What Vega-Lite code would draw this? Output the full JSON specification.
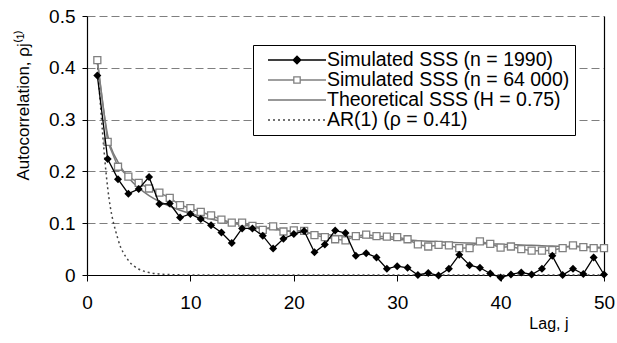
{
  "$schema": "https://vega.github.io/schema/vega-lite/v6.json",
  "width": 517,
  "height": 259,
  "autosize": {"type": "none"},
  "padding": {"left": 87, "top": 16, "right": 13, "bottom": 68},
  "background": "#ffffff",
  "view": {"stroke": null},
  "config": {
    "font": "Liberation Sans",
    "axis": {"labelFont": "Liberation Sans", "titleFont": "Liberation Sans", "labelColor": "#000000", "titleColor": "#000000", "titleFontWeight": "normal"}
  },
  "data": {
    "values": [
      {"series": "Simulated SSS (n = 1990)", "lag": 1, "r": 0.385},
      {"series": "Simulated SSS (n = 1990)", "lag": 2, "r": 0.224},
      {"series": "Simulated SSS (n = 1990)", "lag": 3, "r": 0.185},
      {"series": "Simulated SSS (n = 1990)", "lag": 4, "r": 0.157},
      {"series": "Simulated SSS (n = 1990)", "lag": 5, "r": 0.166},
      {"series": "Simulated SSS (n = 1990)", "lag": 6, "r": 0.189},
      {"series": "Simulated SSS (n = 1990)", "lag": 7, "r": 0.137},
      {"series": "Simulated SSS (n = 1990)", "lag": 8, "r": 0.138},
      {"series": "Simulated SSS (n = 1990)", "lag": 9, "r": 0.111},
      {"series": "Simulated SSS (n = 1990)", "lag": 10, "r": 0.118},
      {"series": "Simulated SSS (n = 1990)", "lag": 11, "r": 0.108},
      {"series": "Simulated SSS (n = 1990)", "lag": 12, "r": 0.096},
      {"series": "Simulated SSS (n = 1990)", "lag": 13, "r": 0.082},
      {"series": "Simulated SSS (n = 1990)", "lag": 14, "r": 0.062},
      {"series": "Simulated SSS (n = 1990)", "lag": 15, "r": 0.090},
      {"series": "Simulated SSS (n = 1990)", "lag": 16, "r": 0.090},
      {"series": "Simulated SSS (n = 1990)", "lag": 17, "r": 0.076},
      {"series": "Simulated SSS (n = 1990)", "lag": 18, "r": 0.051},
      {"series": "Simulated SSS (n = 1990)", "lag": 19, "r": 0.070},
      {"series": "Simulated SSS (n = 1990)", "lag": 20, "r": 0.079},
      {"series": "Simulated SSS (n = 1990)", "lag": 21, "r": 0.085},
      {"series": "Simulated SSS (n = 1990)", "lag": 22, "r": 0.044},
      {"series": "Simulated SSS (n = 1990)", "lag": 23, "r": 0.059},
      {"series": "Simulated SSS (n = 1990)", "lag": 24, "r": 0.086},
      {"series": "Simulated SSS (n = 1990)", "lag": 25, "r": 0.081},
      {"series": "Simulated SSS (n = 1990)", "lag": 26, "r": 0.037},
      {"series": "Simulated SSS (n = 1990)", "lag": 27, "r": 0.042},
      {"series": "Simulated SSS (n = 1990)", "lag": 28, "r": 0.034},
      {"series": "Simulated SSS (n = 1990)", "lag": 29, "r": 0.012},
      {"series": "Simulated SSS (n = 1990)", "lag": 30, "r": 0.017},
      {"series": "Simulated SSS (n = 1990)", "lag": 31, "r": 0.014},
      {"series": "Simulated SSS (n = 1990)", "lag": 32, "r": 0.000},
      {"series": "Simulated SSS (n = 1990)", "lag": 33, "r": 0.004},
      {"series": "Simulated SSS (n = 1990)", "lag": 34, "r": -0.001},
      {"series": "Simulated SSS (n = 1990)", "lag": 35, "r": 0.012},
      {"series": "Simulated SSS (n = 1990)", "lag": 36, "r": 0.039},
      {"series": "Simulated SSS (n = 1990)", "lag": 37, "r": 0.019},
      {"series": "Simulated SSS (n = 1990)", "lag": 38, "r": 0.014},
      {"series": "Simulated SSS (n = 1990)", "lag": 39, "r": 0.003},
      {"series": "Simulated SSS (n = 1990)", "lag": 40, "r": -0.005},
      {"series": "Simulated SSS (n = 1990)", "lag": 41, "r": 0.001},
      {"series": "Simulated SSS (n = 1990)", "lag": 42, "r": 0.005},
      {"series": "Simulated SSS (n = 1990)", "lag": 43, "r": 0.001},
      {"series": "Simulated SSS (n = 1990)", "lag": 44, "r": 0.012},
      {"series": "Simulated SSS (n = 1990)", "lag": 45, "r": 0.037},
      {"series": "Simulated SSS (n = 1990)", "lag": 46, "r": 0.000},
      {"series": "Simulated SSS (n = 1990)", "lag": 47, "r": 0.012},
      {"series": "Simulated SSS (n = 1990)", "lag": 48, "r": 0.002},
      {"series": "Simulated SSS (n = 1990)", "lag": 49, "r": 0.034},
      {"series": "Simulated SSS (n = 1990)", "lag": 50, "r": 0.001},
      {"series": "Simulated SSS (n = 64 000)", "lag": 1, "r": 0.415},
      {"series": "Simulated SSS (n = 64 000)", "lag": 2, "r": 0.257},
      {"series": "Simulated SSS (n = 64 000)", "lag": 3, "r": 0.209},
      {"series": "Simulated SSS (n = 64 000)", "lag": 4, "r": 0.190},
      {"series": "Simulated SSS (n = 64 000)", "lag": 5, "r": 0.178},
      {"series": "Simulated SSS (n = 64 000)", "lag": 6, "r": 0.167},
      {"series": "Simulated SSS (n = 64 000)", "lag": 7, "r": 0.159},
      {"series": "Simulated SSS (n = 64 000)", "lag": 8, "r": 0.149},
      {"series": "Simulated SSS (n = 64 000)", "lag": 9, "r": 0.135},
      {"series": "Simulated SSS (n = 64 000)", "lag": 10, "r": 0.129},
      {"series": "Simulated SSS (n = 64 000)", "lag": 11, "r": 0.122},
      {"series": "Simulated SSS (n = 64 000)", "lag": 12, "r": 0.115},
      {"series": "Simulated SSS (n = 64 000)", "lag": 13, "r": 0.107},
      {"series": "Simulated SSS (n = 64 000)", "lag": 14, "r": 0.101},
      {"series": "Simulated SSS (n = 64 000)", "lag": 15, "r": 0.101},
      {"series": "Simulated SSS (n = 64 000)", "lag": 16, "r": 0.095},
      {"series": "Simulated SSS (n = 64 000)", "lag": 17, "r": 0.087},
      {"series": "Simulated SSS (n = 64 000)", "lag": 18, "r": 0.094},
      {"series": "Simulated SSS (n = 64 000)", "lag": 19, "r": 0.084},
      {"series": "Simulated SSS (n = 64 000)", "lag": 20, "r": 0.086},
      {"series": "Simulated SSS (n = 64 000)", "lag": 21, "r": 0.085},
      {"series": "Simulated SSS (n = 64 000)", "lag": 22, "r": 0.077},
      {"series": "Simulated SSS (n = 64 000)", "lag": 23, "r": 0.073},
      {"series": "Simulated SSS (n = 64 000)", "lag": 24, "r": 0.069},
      {"series": "Simulated SSS (n = 64 000)", "lag": 25, "r": 0.067},
      {"series": "Simulated SSS (n = 64 000)", "lag": 26, "r": 0.075},
      {"series": "Simulated SSS (n = 64 000)", "lag": 27, "r": 0.078},
      {"series": "Simulated SSS (n = 64 000)", "lag": 28, "r": 0.075},
      {"series": "Simulated SSS (n = 64 000)", "lag": 29, "r": 0.074},
      {"series": "Simulated SSS (n = 64 000)", "lag": 30, "r": 0.073},
      {"series": "Simulated SSS (n = 64 000)", "lag": 31, "r": 0.069},
      {"series": "Simulated SSS (n = 64 000)", "lag": 32, "r": 0.059},
      {"series": "Simulated SSS (n = 64 000)", "lag": 33, "r": 0.055},
      {"series": "Simulated SSS (n = 64 000)", "lag": 34, "r": 0.058},
      {"series": "Simulated SSS (n = 64 000)", "lag": 35, "r": 0.057},
      {"series": "Simulated SSS (n = 64 000)", "lag": 36, "r": 0.052},
      {"series": "Simulated SSS (n = 64 000)", "lag": 37, "r": 0.052},
      {"series": "Simulated SSS (n = 64 000)", "lag": 38, "r": 0.065},
      {"series": "Simulated SSS (n = 64 000)", "lag": 39, "r": 0.060},
      {"series": "Simulated SSS (n = 64 000)", "lag": 40, "r": 0.053},
      {"series": "Simulated SSS (n = 64 000)", "lag": 41, "r": 0.055},
      {"series": "Simulated SSS (n = 64 000)", "lag": 42, "r": 0.050},
      {"series": "Simulated SSS (n = 64 000)", "lag": 43, "r": 0.047},
      {"series": "Simulated SSS (n = 64 000)", "lag": 44, "r": 0.047},
      {"series": "Simulated SSS (n = 64 000)", "lag": 45, "r": 0.048},
      {"series": "Simulated SSS (n = 64 000)", "lag": 46, "r": 0.052},
      {"series": "Simulated SSS (n = 64 000)", "lag": 47, "r": 0.057},
      {"series": "Simulated SSS (n = 64 000)", "lag": 48, "r": 0.054},
      {"series": "Simulated SSS (n = 64 000)", "lag": 49, "r": 0.052},
      {"series": "Simulated SSS (n = 64 000)", "lag": 50, "r": 0.052},
      {"series": "Theoretical SSS (H = 0.75)", "lag": 1, "r": 0.4142},
      {"series": "Theoretical SSS (H = 0.75)", "lag": 2, "r": 0.2697},
      {"series": "Theoretical SSS (H = 0.75)", "lag": 3, "r": 0.2181},
      {"series": "Theoretical SSS (H = 0.75)", "lag": 4, "r": 0.1883},
      {"series": "Theoretical SSS (H = 0.75)", "lag": 5, "r": 0.1681},
      {"series": "Theoretical SSS (H = 0.75)", "lag": 6, "r": 0.1534},
      {"series": "Theoretical SSS (H = 0.75)", "lag": 7, "r": 0.1419},
      {"series": "Theoretical SSS (H = 0.75)", "lag": 8, "r": 0.1328},
      {"series": "Theoretical SSS (H = 0.75)", "lag": 9, "r": 0.1251},
      {"series": "Theoretical SSS (H = 0.75)", "lag": 10, "r": 0.1187},
      {"series": "Theoretical SSS (H = 0.75)", "lag": 11, "r": 0.1131},
      {"series": "Theoretical SSS (H = 0.75)", "lag": 12, "r": 0.1083},
      {"series": "Theoretical SSS (H = 0.75)", "lag": 13, "r": 0.1040},
      {"series": "Theoretical SSS (H = 0.75)", "lag": 14, "r": 0.1002},
      {"series": "Theoretical SSS (H = 0.75)", "lag": 15, "r": 0.0968},
      {"series": "Theoretical SSS (H = 0.75)", "lag": 16, "r": 0.0938},
      {"series": "Theoretical SSS (H = 0.75)", "lag": 17, "r": 0.0910},
      {"series": "Theoretical SSS (H = 0.75)", "lag": 18, "r": 0.0884},
      {"series": "Theoretical SSS (H = 0.75)", "lag": 19, "r": 0.0860},
      {"series": "Theoretical SSS (H = 0.75)", "lag": 20, "r": 0.0839},
      {"series": "Theoretical SSS (H = 0.75)", "lag": 21, "r": 0.0818},
      {"series": "Theoretical SSS (H = 0.75)", "lag": 22, "r": 0.0800},
      {"series": "Theoretical SSS (H = 0.75)", "lag": 23, "r": 0.0782},
      {"series": "Theoretical SSS (H = 0.75)", "lag": 24, "r": 0.0765},
      {"series": "Theoretical SSS (H = 0.75)", "lag": 25, "r": 0.0750},
      {"series": "Theoretical SSS (H = 0.75)", "lag": 26, "r": 0.0735},
      {"series": "Theoretical SSS (H = 0.75)", "lag": 27, "r": 0.0722},
      {"series": "Theoretical SSS (H = 0.75)", "lag": 28, "r": 0.0709},
      {"series": "Theoretical SSS (H = 0.75)", "lag": 29, "r": 0.0696},
      {"series": "Theoretical SSS (H = 0.75)", "lag": 30, "r": 0.0685},
      {"series": "Theoretical SSS (H = 0.75)", "lag": 31, "r": 0.0674},
      {"series": "Theoretical SSS (H = 0.75)", "lag": 32, "r": 0.0663},
      {"series": "Theoretical SSS (H = 0.75)", "lag": 33, "r": 0.0653},
      {"series": "Theoretical SSS (H = 0.75)", "lag": 34, "r": 0.0643},
      {"series": "Theoretical SSS (H = 0.75)", "lag": 35, "r": 0.0634},
      {"series": "Theoretical SSS (H = 0.75)", "lag": 36, "r": 0.0625},
      {"series": "Theoretical SSS (H = 0.75)", "lag": 37, "r": 0.0616},
      {"series": "Theoretical SSS (H = 0.75)", "lag": 38, "r": 0.0608},
      {"series": "Theoretical SSS (H = 0.75)", "lag": 39, "r": 0.0600},
      {"series": "Theoretical SSS (H = 0.75)", "lag": 40, "r": 0.0593},
      {"series": "Theoretical SSS (H = 0.75)", "lag": 41, "r": 0.0586},
      {"series": "Theoretical SSS (H = 0.75)", "lag": 42, "r": 0.0579},
      {"series": "Theoretical SSS (H = 0.75)", "lag": 43, "r": 0.0572},
      {"series": "Theoretical SSS (H = 0.75)", "lag": 44, "r": 0.0565},
      {"series": "Theoretical SSS (H = 0.75)", "lag": 45, "r": 0.0559},
      {"series": "Theoretical SSS (H = 0.75)", "lag": 46, "r": 0.0553},
      {"series": "Theoretical SSS (H = 0.75)", "lag": 47, "r": 0.0547},
      {"series": "Theoretical SSS (H = 0.75)", "lag": 48, "r": 0.0541},
      {"series": "Theoretical SSS (H = 0.75)", "lag": 49, "r": 0.0536},
      {"series": "Theoretical SSS (H = 0.75)", "lag": 50, "r": 0.0530},
      {"series": "AR(1) (ρ = 0.41)", "lag": 1, "r": 0.41},
      {"series": "AR(1) (ρ = 0.41)", "lag": 2, "r": 0.1681},
      {"series": "AR(1) (ρ = 0.41)", "lag": 3, "r": 0.0689},
      {"series": "AR(1) (ρ = 0.41)", "lag": 4, "r": 0.0283},
      {"series": "AR(1) (ρ = 0.41)", "lag": 5, "r": 0.0116},
      {"series": "AR(1) (ρ = 0.41)", "lag": 6, "r": 0.0048},
      {"series": "AR(1) (ρ = 0.41)", "lag": 7, "r": 0.0019},
      {"series": "AR(1) (ρ = 0.41)", "lag": 8, "r": 0.0008},
      {"series": "AR(1) (ρ = 0.41)", "lag": 9, "r": 0.0003},
      {"series": "AR(1) (ρ = 0.41)", "lag": 10, "r": 0.0001},
      {"series": "AR(1) (ρ = 0.41)", "lag": 11, "r": 0},
      {"series": "AR(1) (ρ = 0.41)", "lag": 12, "r": 0},
      {"series": "AR(1) (ρ = 0.41)", "lag": 13, "r": 0},
      {"series": "AR(1) (ρ = 0.41)", "lag": 14, "r": 0},
      {"series": "AR(1) (ρ = 0.41)", "lag": 15, "r": 0},
      {"series": "AR(1) (ρ = 0.41)", "lag": 16, "r": 0},
      {"series": "AR(1) (ρ = 0.41)", "lag": 17, "r": 0},
      {"series": "AR(1) (ρ = 0.41)", "lag": 18, "r": 0},
      {"series": "AR(1) (ρ = 0.41)", "lag": 19, "r": 0},
      {"series": "AR(1) (ρ = 0.41)", "lag": 20, "r": 0},
      {"series": "AR(1) (ρ = 0.41)", "lag": 21, "r": 0},
      {"series": "AR(1) (ρ = 0.41)", "lag": 22, "r": 0},
      {"series": "AR(1) (ρ = 0.41)", "lag": 23, "r": 0},
      {"series": "AR(1) (ρ = 0.41)", "lag": 24, "r": 0},
      {"series": "AR(1) (ρ = 0.41)", "lag": 25, "r": 0},
      {"series": "AR(1) (ρ = 0.41)", "lag": 26, "r": 0},
      {"series": "AR(1) (ρ = 0.41)", "lag": 27, "r": 0},
      {"series": "AR(1) (ρ = 0.41)", "lag": 28, "r": 0},
      {"series": "AR(1) (ρ = 0.41)", "lag": 29, "r": 0},
      {"series": "AR(1) (ρ = 0.41)", "lag": 30, "r": 0},
      {"series": "AR(1) (ρ = 0.41)", "lag": 31, "r": 0},
      {"series": "AR(1) (ρ = 0.41)", "lag": 32, "r": 0},
      {"series": "AR(1) (ρ = 0.41)", "lag": 33, "r": 0},
      {"series": "AR(1) (ρ = 0.41)", "lag": 34, "r": 0},
      {"series": "AR(1) (ρ = 0.41)", "lag": 35, "r": 0},
      {"series": "AR(1) (ρ = 0.41)", "lag": 36, "r": 0},
      {"series": "AR(1) (ρ = 0.41)", "lag": 37, "r": 0},
      {"series": "AR(1) (ρ = 0.41)", "lag": 38, "r": 0},
      {"series": "AR(1) (ρ = 0.41)", "lag": 39, "r": 0},
      {"series": "AR(1) (ρ = 0.41)", "lag": 40, "r": 0},
      {"series": "AR(1) (ρ = 0.41)", "lag": 41, "r": 0},
      {"series": "AR(1) (ρ = 0.41)", "lag": 42, "r": 0},
      {"series": "AR(1) (ρ = 0.41)", "lag": 43, "r": 0},
      {"series": "AR(1) (ρ = 0.41)", "lag": 44, "r": 0},
      {"series": "AR(1) (ρ = 0.41)", "lag": 45, "r": 0},
      {"series": "AR(1) (ρ = 0.41)", "lag": 46, "r": 0},
      {"series": "AR(1) (ρ = 0.41)", "lag": 47, "r": 0},
      {"series": "AR(1) (ρ = 0.41)", "lag": 48, "r": 0},
      {"series": "AR(1) (ρ = 0.41)", "lag": 49, "r": 0},
      {"series": "AR(1) (ρ = 0.41)", "lag": 50, "r": 0}
    ]
  },
  "encoding": {
    "x": {
      "field": "lag",
      "type": "quantitative",
      "scale": {"domain": [0, 50], "nice": false},
      "axis": {
        "values": [0, 10, 20, 30, 40, 50],
        "grid": false,
        "domainColor": "#000000",
        "domainWidth": 1.2,
        "tickColor": "#000000",
        "tickSize": 6,
        "labelPadding": 12,
        "labelFontSize": 19,
        "labelFlush": false,
        "labelOverlap": false,
        "title": "Lag, j",
        "titleFontSize": 16,
        "titleX": 481,
        "titleY": 53,
        "titleAlign": "right",
        "titleBaseline": "alphabetic"
      }
    },
    "y": {
      "field": "r",
      "type": "quantitative",
      "scale": {"domain": [0, 0.5], "nice": false},
      "axis": {
        "values": [0, 0.1, 0.2, 0.3, 0.4, 0.5],
        "format": ".1~f",
        "grid": true,
        "gridColor": "#7f7f7f",
        "gridDash": [8, 4],
        "gridWidth": 1.2,
        "gridOpacity": {"condition": {"test": "datum.value === 0", "value": 0}, "value": 1},
        "domainColor": "#000000",
        "domainWidth": 1.2,
        "tickColor": "#000000",
        "tickSize": 5,
        "labelPadding": 7,
        "labelFontSize": 19,
        "labelFlush": false,
        "labelOverlap": false,
        "title": "Autocorrelation, ρj⁽¹⁾",
        "titleFontSize": 17,
        "titleAngle": -90,
        "titleX": -59,
        "titleY": 164,
        "titleAlign": "left",
        "titleBaseline": "alphabetic"
      }
    },
    "color": {
      "field": "series",
      "type": "nominal",
      "scale": {
        "domain": ["Simulated SSS (n = 1990)", "Simulated SSS (n = 64 000)", "Theoretical SSS (H = 0.75)", "AR(1) (ρ = 0.41)"],
        "range": ["#000000", "#808080", "#777777", "#444444"]
      },
      "legend": {
        "title": null,
        "orient": "none",
        "legendX": 166,
        "legendY": 29,
        "padding": 5,
        "strokeColor": "#000000",
        "fillColor": "#ffffff",
        "symbolSize": 3364,
        "clipHeight": 20,
        "rowPadding": 0,
        "symbolOffset": 9,
        "labelOffset": 0,
        "labelFont": "Liberation Sans",
        "labelFontSize": 19.5,
        "labelColor": "#000000",
        "labelLimit": 400,
        "encode": {
          "symbols": {
            "update": {
              "shape": {"signal": "datum.value === 'Simulated SSS (n = 1990)' ? 'M-1,0H1M-0.13,0L0,-0.13L0.13,0L0,0.13Z' : datum.value === 'Simulated SSS (n = 64 000)' ? 'M-1,0H-0.11M0.11,0H1M-0.11,-0.11H0.11V0.11H-0.11Z' : 'M-1,0H1'"},
              "fill": {"signal": "datum.value === 'Simulated SSS (n = 1990)' ? '#000000' : '#ffffff'"},
              "fillOpacity": {"signal": "datum.value === 'Simulated SSS (n = 1990)' ? 1 : 0"},
              "stroke": {"signal": "datum.value === 'Simulated SSS (n = 1990)' ? '#000000' : datum.value === 'AR(1) (ρ = 0.41)' ? '#444444' : '#808080'"},
              "strokeDash": {"signal": "datum.value === 'AR(1) (ρ = 0.41)' ? [2, 3] : [10, 0]"},
              "strokeWidth": {"value": 1.3},
              "opacity": {"value": 1},
              "strokeOpacity": {"value": 1}
            }
          }
        }
      }
    }
  },
  "layer": [
    {
      "layer": [
        {
          "transform": [{"filter": "datum.series === 'Theoretical SSS (H = 0.75)'"}],
          "mark": {"type": "line", "interpolate": "monotone", "strokeWidth": 1.5}
        },
        {
          "transform": [{"filter": "datum.series === 'AR(1) (ρ = 0.41)'"}],
          "mark": {"type": "line", "interpolate": "monotone", "strokeWidth": 1.5, "strokeDash": [2, 3]}
        },
        {
          "transform": [{"filter": "datum.series === 'Simulated SSS (n = 64 000)'"}],
          "mark": {"type": "line", "strokeWidth": 1.5}
        },
        {
          "transform": [{"filter": "datum.series === 'Simulated SSS (n = 64 000)'"}],
          "mark": {"type": "point", "shape": "square", "filled": false, "fill": "#ffffff", "size": 49, "strokeWidth": 1.3, "opacity": 1}
        },
        {
          "transform": [{"filter": "datum.series === 'Simulated SSS (n = 1990)'"}],
          "mark": {"type": "line", "strokeWidth": 1.3}
        }
      ]
    },
    {
      "transform": [{"filter": "datum.series === 'Simulated SSS (n = 1990)'"}],
      "mark": {"type": "point", "shape": "diamond", "filled": true, "size": 64, "opacity": 1},
      "encoding": {
        "y": {
          "field": "r",
          "type": "quantitative",
          "scale": {"domain": [0, 0.5], "nice": false},
          "axis": {"orient": "right", "labels": false, "ticks": false, "grid": false, "title": null, "domainColor": "#000000", "domainWidth": 1.2}
        }
      }
    }
  ],
  "resolve": {"axis": {"y": "independent"}}
}
